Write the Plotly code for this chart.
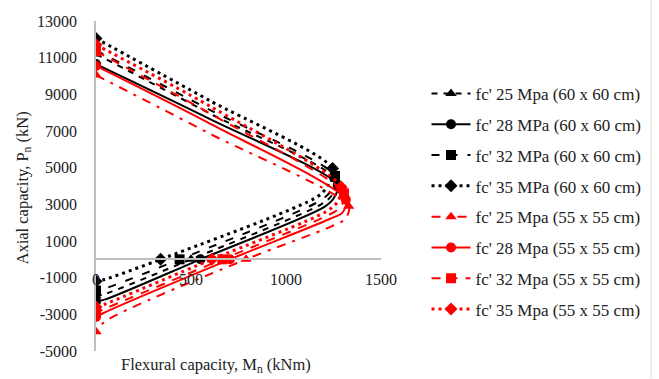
import plotly.graph_objects as go

# Interaction diagrams (M in kNm, P in kN). Markers at pure compression,
# balanced, pure flexure and pure tension points.
names = [
    "fc' 25 Mpa (60 x 60 cm)",
    "fc' 28 MPa (60 x 60 cm)",
    "fc' 32 MPa (60 x 60 cm)",
    "fc' 35 MPa (60 x 60 cm)",
    "fc' 25 Mpa (55 x 55 cm)",
    "fc' 28 Mpa (55 x 55 cm)",
    "fc' 32 Mpa (55 x 55 cm)",
    "fc' 35 Mpa (55 x 55 cm)",
]
M_25_60 = [0, 600, 1262, 1242, 1185, 500, 45, 0]
P_25_60 = [11200, 7950, 4350, 3500, 3000, 0, -1900, -2000]
M_28_60 = [0, 600, 1272, 1252, 1200, 550, 45, 0]
P_28_60 = [10650, 7650, 4050, 3350, 2850, 0, -2200, -2300]
M_32_60 = [0, 600, 1258, 1238, 1180, 440, 45, 0]
P_32_60 = [11400, 8150, 4550, 3750, 3200, 0, -1600, -1700]
M_35_60 = [0, 600, 1245, 1225, 1170, 340, 45, 0]
P_35_60 = [12050, 8650, 4950, 4100, 3450, 0, -1100, -1200]
M_25_55 = [0, 600, 1330, 1312, 1240, 790, 45, 0]
P_25_55 = [10050, 6850, 2900, 2200, 1800, 0, -3400, -3950]
M_28_55 = [0, 600, 1315, 1297, 1230, 705, 45, 0]
P_28_55 = [10550, 7400, 3250, 2550, 2200, 0, -2900, -3150]
M_32_55 = [0, 600, 1305, 1287, 1220, 665, 45, 0]
P_32_55 = [11350, 7950, 3600, 2850, 2400, 0, -2700, -2900]
M_35_55 = [0, 600, 1290, 1272, 1210, 610, 45, 0]
P_35_55 = [11700, 8350, 3950, 3150, 2600, 0, -2450, -2600]
# indices of the points that carry a marker (P0, balanced, pure flexure, pure tension)
marked_points = [0, 2, 5, 7]

x_ticks = [0, 500, 1000, 1500]
x_tick_text = ["0", "500", "1000", "1500"]
y_ticks = [13000, 11000, 9000, 7000, 5000, 3000, 1000, -1000, -3000, -5000]
y_tick_text = ["13000", "11000", "9000", "7000", "5000", "3000", "1000", "-1000", "-3000", "-5000"]

series = [
    (M_25_60, P_25_60, "black", "6px,6px", "triangle-up", 2),
    (M_28_60, P_28_60, "black", "solid", "circle", 2),
    (M_32_60, P_32_60, "black", "8px,10px", "square", 2),
    (M_35_60, P_35_60, "black", "3px,4px", "diamond", 3),
    (M_25_55, P_25_55, "#ff0000", "9px,7px,3px,7px", "triangle-up", 2),
    (M_28_55, P_28_55, "#ff0000", "solid", "circle", 2),
    (M_32_55, P_32_55, "#ff0000", "9px,8px", "square", 2),
    (M_35_55, P_35_55, "#ff0000", "3px,4px", "diamond", 3),
]

fig = go.Figure()
for i, (mx, py, col, dash, sym, lw) in enumerate(series):
    grp = "g%d" % i
    line = dict(color=col, dash=dash, width=lw, shape="spline", smoothing=0.8)
    marker = dict(symbol=sym, size=10, color=col, line=dict(width=0))
    fig.add_trace(go.Scatter(x=mx, y=py, mode="lines", line=line, name=names[i],
                             legendgroup=grp, showlegend=False, hoverinfo="skip"))
    fig.add_trace(go.Scatter(x=[mx[k] for k in marked_points], y=[py[k] for k in marked_points],
                             mode="markers", marker=marker, name=names[i],
                             legendgroup=grp, showlegend=False))
    # legend entry only (line + marker sample)
    fig.add_trace(go.Scatter(x=[None], y=[None], mode="lines+markers", line=line, marker=marker,
                             name=names[i], legendgroup=grp, showlegend=True))

font = "Liberation Serif, Times New Roman, serif"
txt = "#222222"
fig.update_layout(
    width=659, height=379,
    margin=dict(l=96, r=275, t=21, b=28),
    paper_bgcolor="white", plot_bgcolor="white",
    font=dict(family=font, size=16, color=txt),
    showlegend=True,
    legend=dict(x=(430 - 96) / 288, y=(351.5 - 76) / 330.5, xanchor="left", yanchor="top",
                font=dict(family=font, size=17, color=txt),
                tracegroupgap=5.7, traceorder="grouped", itemwidth=39,
                bgcolor="rgba(0,0,0,0)"),
    xaxis=dict(range=[0, 1500], tickvals=x_ticks, ticktext=x_tick_text,
               showgrid=False, zeroline=False, automargin=False,
               showline=True, linecolor="#bfbfbf", linewidth=1.5,
               anchor="free", position=5000 / 18000, ticks="",
               ticklabelstandoff=6, tickfont=dict(size=16, family=font, color=txt)),
    yaxis=dict(range=[-5000, 13000], tickvals=y_ticks, ticktext=y_tick_text,
               showgrid=False, zeroline=False, automargin=False,
               showline=True, linecolor="#bfbfbf", linewidth=1.5, ticks="",
               ticklabelstandoff=14, tickfont=dict(size=16, family=font, color=txt)),
    annotations=[
        dict(text="Flexural capacity, M<sub>n</sub> (kNm)", xref="paper", yref="paper",
             x=(217 - 96) / 288, y=(351.5 - 366) / 330.5, xanchor="center", yanchor="middle",
             showarrow=False, font=dict(family=font, size=16.5, color=txt)),
        dict(text="Axial capacity, P<sub>n</sub> (kN)", xref="paper", yref="paper",
             x=(22 - 96) / 288, y=(351.5 - 188) / 330.5, xanchor="center", yanchor="middle",
             textangle=-90, showarrow=False, font=dict(family=font, size=16.5, color=txt)),
    ],
    shapes=[dict(type="line", xref="paper", yref="paper",
                 x0=(657 - 96) / 288, x1=(657 - 96) / 288,
                 y0=(351.5 - 379) / 330.5, y1=(351.5 - 0) / 330.5,
                 line=dict(color="#d9d9d9", width=1))],
)
fig.write_html("out.html", config={"displayModeBar": False},
               post_script="document.body.style.margin='0px';")
